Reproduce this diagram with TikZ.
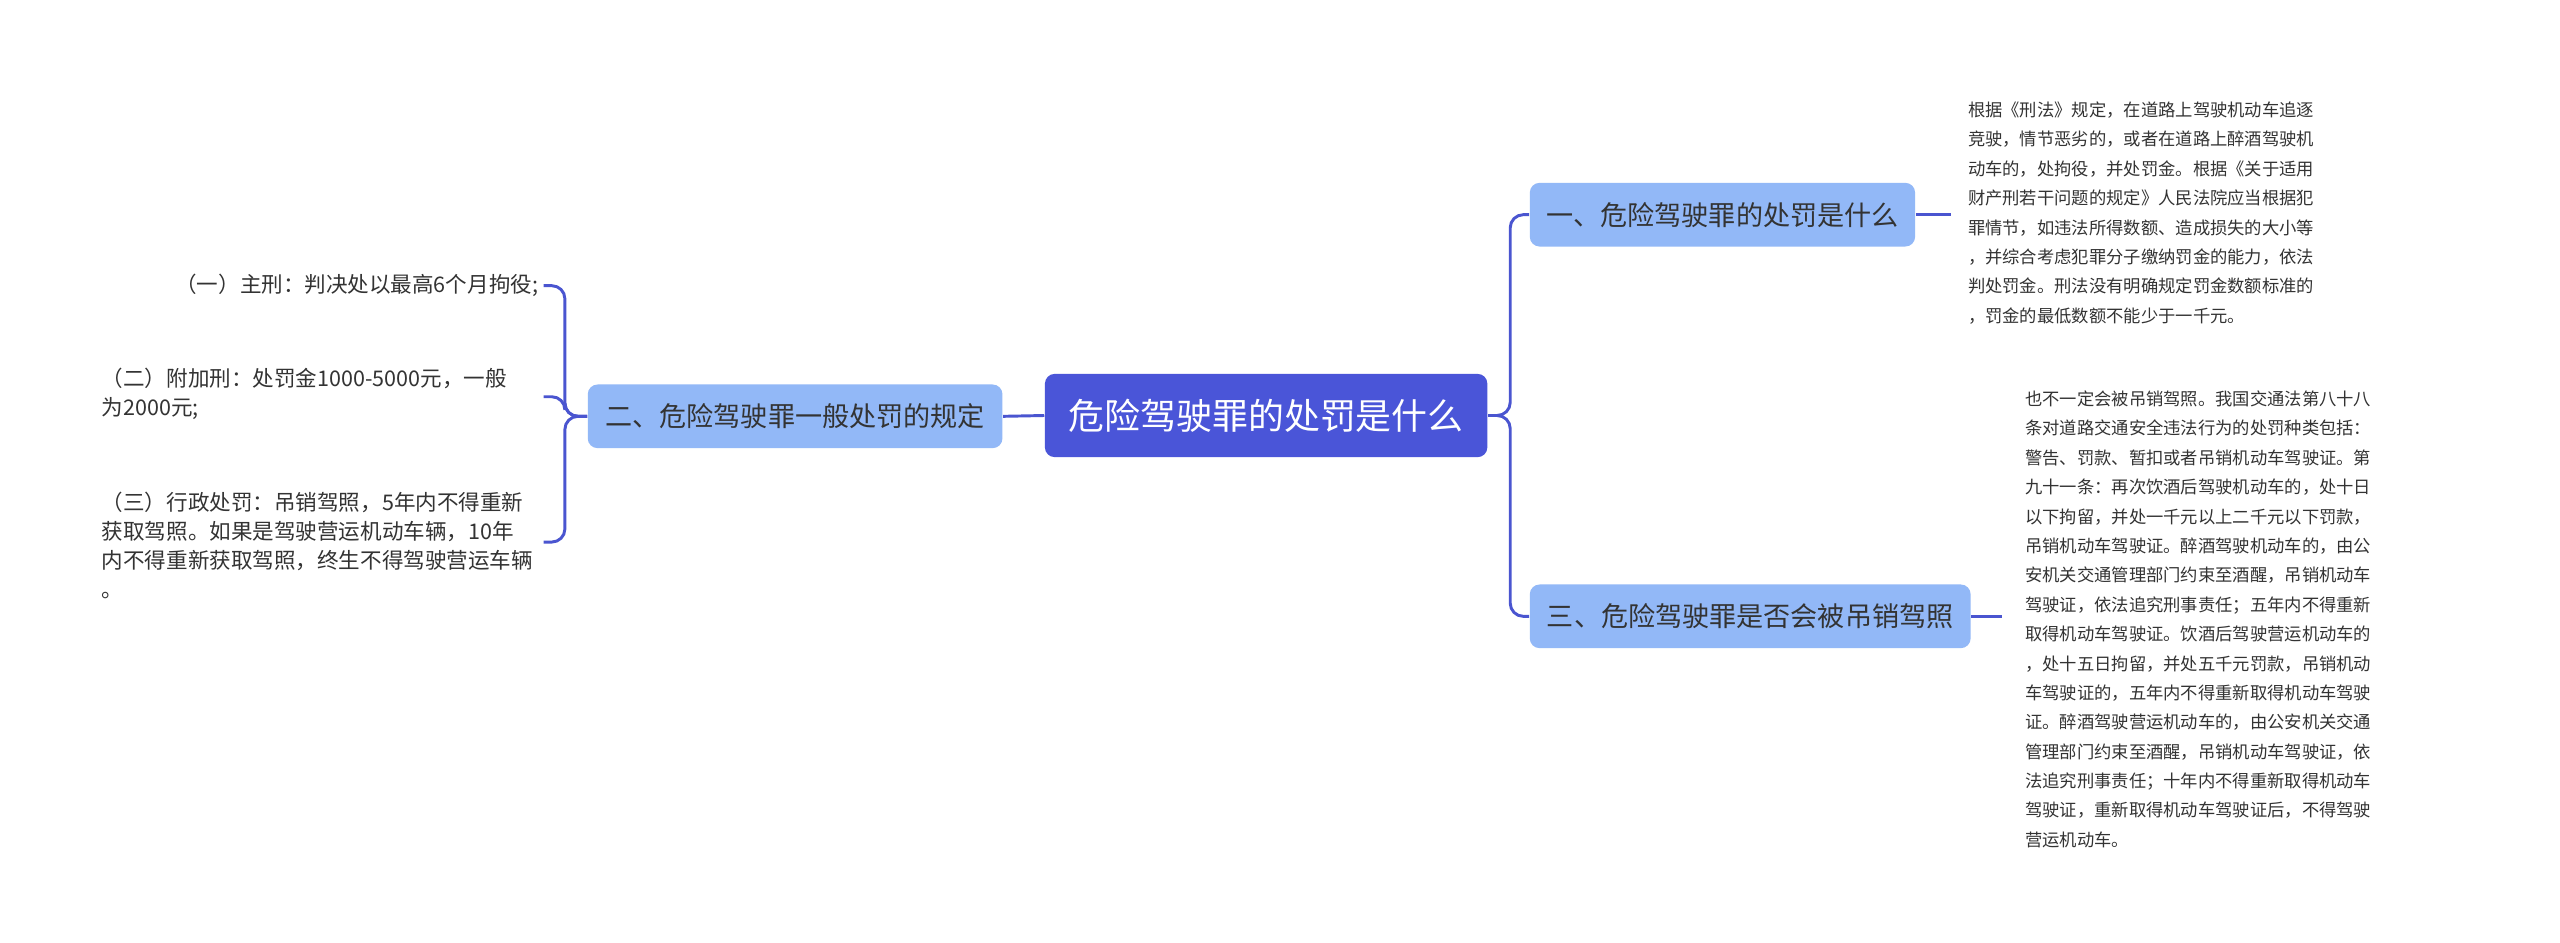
\documentclass[tikz,border=0pt]{standalone}
\usepackage{fontspec}
\setmainfont{Noto Sans CJK SC}
\begin{document}
\begin{tikzpicture}[x=0.5pt,y=-0.5pt,
  line/.style={draw=lineblue,line width=0.9pt,rounded corners=4pt},
  sub/.style={fill=boxblue,rounded corners=3pt,text=textgray,font=\fontsize{8.3}{10}\selectfont,inner sep=0pt,minimum height=19.5pt},
  leaf/.style={text=textgray,font=\fontsize{5.3}{9}\selectfont,align=left,inner sep=0pt},
  lleaf/.style={leaf,font=\fontsize{6.6}{8.9}\selectfont}]
\definecolor{lineblue}{HTML}{4A55D0}
\definecolor{boxblue}{HTML}{92B8F7}
\definecolor{textgray}{HTML}{333333}
\definecolor{mainblue}{HTML}{4A55D8}
\useasboundingbox[fill=white] (0,0) rectangle (1568,577);
\node[fill=mainblue,rounded corners=3pt,text=white,font=\fontsize{11}{13}\selectfont,inner sep=0pt,minimum width=135.5pt,minimum height=25.5pt] (c) at (775.5,254.5) {危险驾驶罪的处罚是什么};
\node[sub,minimum width=127pt] (L) at (487,255) {二、危险驾驶罪一般处罚的规定};
\node[sub,minimum width=118pt] (R1) at (1055,131.5) {一、危险驾驶罪的处罚是什么};
\node[sub,minimum width=135pt] (R3) at (1072,377.5) {三、危险驾驶罪是否会被吊销驾照};
\coordinate (a1) at (333,175);
\coordinate (a2) at (333,243);
\coordinate (a3) at (333,332);
\node[lleaf,anchor=east] (l1) at (330,175) {（一）主刑：判决处以最高6个月拘役;};
\node[lleaf,anchor=north west] (l2) at (62,225) {（二）附加刑：处罚金1000-5000元，一般\\为2000元;};
\node[lleaf,anchor=north west] (l3) at (62,301) {（三）行政处罚：吊销驾照，5年内不得重新\\获取驾照。如果是驾驶营运机动车辆，10年\\内不得重新获取驾照，终生不得驾驶营运车辆\\。};
\node[leaf,anchor=north west] (t1) at (1205,62) {根据《刑法》规定，在道路上驾驶机动车追逐\\竞驶，情节恶劣的，或者在道路上醉酒驾驶机\\动车的，处拘役，并处罚金。根据《关于适用\\财产刑若干问题的规定》人民法院应当根据犯\\罪情节，如违法所得数额、造成损失的大小等\\，并综合考虑犯罪分子缴纳罚金的能力，依法\\判处罚金。刑法没有明确规定罚金数额标准的\\，罚金的最低数额不能少于一千元。};
\node[leaf,anchor=north west] (t3) at (1240,239) {也不一定会被吊销驾照。我国交通法第八十八\\条对道路交通安全违法行为的处罚种类包括：\\警告、罚款、暂扣或者吊销机动车驾驶证。第\\九十一条：再次饮酒后驾驶机动车的，处十日\\以下拘留，并处一千元以上二千元以下罚款，\\吊销机动车驾驶证。醉酒驾驶机动车的，由公\\安机关交通管理部门约束至酒醒，吊销机动车\\驾驶证，依法追究刑事责任；五年内不得重新\\取得机动车驾驶证。饮酒后驾驶营运机动车的\\，处十五日拘留，并处五千元罚款，吊销机动\\车驾驶证的，五年内不得重新取得机动车驾驶\\证。醉酒驾驶营运机动车的，由公安机关交通\\管理部门约束至酒醒，吊销机动车驾驶证，依\\法追究刑事责任；十年内不得重新取得机动车\\驾驶证，重新取得机动车驾驶证后，不得驾驶\\营运机动车。};
\draw[line] (c.east) -- (925,254.5) |- (R1.west);
\draw[line] (c.east) -- (925,254.5) |- (R3.west);
\draw[line] (c.west) -- (L.east);
\draw[line] (L.west) -- (346,255) |- (a1);
\draw[line] (L.west) -- (346,255) |- (a2);
\draw[line] (L.west) -- (346,255) |- (a3);
\coordinate (b1) at (1195,131.5);
\coordinate (b3) at (1226,377.5);
\draw[line] (R1.east) -- (b1);
\draw[line] (R3.east) -- (b3);
\end{tikzpicture}
\end{document}
